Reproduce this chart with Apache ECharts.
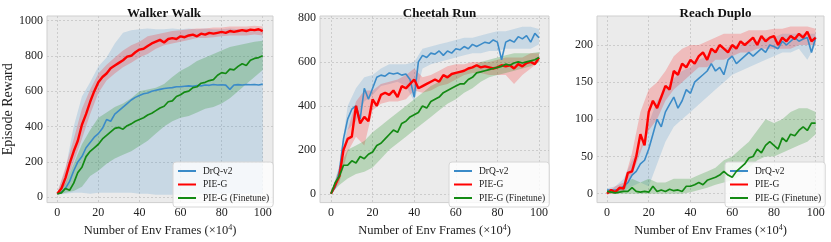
<!DOCTYPE html>
<html><head><meta charset="utf-8">
<script src="https://cdn.jsdelivr.net/npm/echarts@6/dist/echarts.min.js"></script>
<style>html,body{margin:0;padding:0;background:#fff}#c{width:831px;height:242px}</style>
</head><body><div id="c"></div>
<script>
// ---- x positions (×10^4 env frames) ----
const X  = [0,2,4,6,8,10,12,14,16,18,20,22,24,26,28,30,32,34,36,38,40,42,44,46,48,50,52,54,56,58,60,62,64,66,68,70,72,74,76,78,80,82,84,86,88,90,92,94,96,98,100];
const XB = [0,4,8,12,16,20,24,28,32,36,40,44,48,52,56,60,64,68,72,76,80,84,88,92,96,100];

const titles = ['Walker Walk','Cheetah Run','Reach Duplo'];
const seriesNames = ['DrQ-v2','PIE-G','PIE-G (Finetune)'];
const yTicksWalker  = [0,200,400,600,800,1000];
const yTicksCheetah = [0,200,400,600,800];
const yTicksReach   = [0,50,100,150,200];
const xTicks = [0,20,40,60,80,100];

// ---- Walker Walk ----
const walkerDrq   = [20,30,50,90,150,200,230,280,310,340,360,390,440,430,470,490,510,530,550,565,575,585,590,600,605,610,615,618,620,625,625,628,630,628,632,630,635,633,638,635,636,634,610,635,637,635,638,636,638,635,640];
const walkerDrqLo = [15,20,25,25,20,25,25,25,25,25,20,20,15,15,15,15,15,20,20,20,20,20,20,20,20,20];
const walkerDrqHi = [25,160,400,570,650,740,790,870,930,945,950,955,950,950,955,950,955,950,955,950,950,955,950,955,950,950];
const walkerPie   = [20,50,110,190,260,320,410,470,540,600,650,680,700,730,745,760,775,795,800,820,835,840,855,870,880,890,875,895,900,895,910,905,915,920,910,925,920,930,925,930,935,930,940,935,940,945,940,948,945,950,940];
const walkerPieLo = [15,70,200,330,470,590,660,700,735,760,790,810,840,860,870,880,890,900,900,905,910,915,915,915,920,915];
const walkerPieHi = [25,170,330,500,610,700,750,790,830,860,880,910,920,930,940,945,950,955,955,960,960,965,965,965,970,965];
const walkerFt    = [20,25,50,40,80,140,170,230,260,280,300,330,350,370,390,395,385,405,415,430,440,450,465,475,490,505,515,540,545,570,580,595,600,620,625,645,650,660,665,690,705,700,725,720,740,755,745,775,785,790,800];
const walkerFtLo  = [15,25,35,60,120,150,190,220,240,260,290,320,360,400,430,450,460,480,500,510,530,560,600,640,680,720];
const walkerFtHi  = [25,80,190,300,380,450,480,510,530,560,600,610,620,640,680,715,740,770,790,810,830,850,860,870,880,885];

// ---- Cheetah Run ----
const cheetahDrq   = [0,30,100,250,340,385,400,340,480,430,480,530,540,535,550,545,550,540,545,520,440,600,630,620,640,635,650,630,650,640,660,655,670,660,680,670,680,690,685,700,690,610,690,700,690,715,705,720,690,730,710];
const cheetahDrqLo = [0,70,290,330,420,450,490,500,510,490,420,570,590,600,610,620,630,640,640,650,650,660,660,660,660,680];
const cheetahDrqHi = [0,130,400,480,530,540,570,590,590,590,600,660,670,680,690,700,710,710,720,730,740,740,750,760,760,750];
const cheetahPie   = [0,40,80,200,250,260,400,320,350,330,430,400,450,460,450,470,440,490,480,500,520,480,490,500,510,520,510,540,530,545,550,555,560,570,575,585,575,580,575,570,575,585,580,585,570,590,580,595,600,590,620];
const cheetahPieLo = [0,50,190,260,220,380,410,420,420,430,470,460,470,490,500,520,540,550,550,540,540,540,500,540,570,600];
const cheetahPieHi = [0,110,290,420,470,470,500,510,520,540,570,530,540,560,580,590,590,600,600,600,610,620,620,620,640,640];
const cheetahFt    = [0,50,80,130,130,150,140,170,160,180,190,220,230,250,270,290,280,320,330,350,360,370,400,390,420,430,440,460,470,480,490,500,500,520,530,550,555,560,565,570,575,580,590,585,595,600,595,600,605,610,620];
const cheetahFtLo  = [0,40,70,90,100,120,160,200,230,260,290,320,350,380,410,430,460,480,510,530,540,550,560,570,580,600];
const cheetahFtHi  = [0,120,200,220,240,280,310,340,370,400,430,460,490,510,540,550,560,580,600,610,620,630,640,640,640,645];

// ---- Reach Duplo ----
const reachDrq   = [5,5,5,6,10,15,25,30,40,45,60,80,100,90,110,120,130,115,125,140,135,150,155,160,165,175,165,170,160,180,185,175,180,185,190,185,190,195,190,200,198,195,205,200,205,210,205,208,210,190,210];
const reachDrqLo = [3,2,3,10,15,10,40,70,90,100,110,120,130,140,150,160,165,170,175,180,185,190,190,195,180,200];
const reachDrqHi = [7,10,20,45,60,95,125,140,155,165,170,180,185,195,195,200,200,205,205,210,210,215,215,215,215,215];
const reachPie   = [0,5,2,8,7,28,30,50,80,65,110,125,115,130,145,140,165,160,175,170,180,175,185,190,180,195,190,200,195,190,200,195,205,200,205,210,200,212,205,210,212,200,210,205,212,208,215,210,218,205,210];
const reachPieLo = [0,0,3,25,55,85,100,125,140,150,160,170,170,180,180,185,190,190,195,195,195,195,195,200,200,200];
const reachPieHi = [0,10,15,55,110,140,150,165,185,195,200,200,205,210,215,215,215,220,220,220,222,222,225,225,225,222];
const reachFt    = [3,2,1,2,3,3,8,3,2,3,2,10,3,5,3,6,4,5,3,10,10,12,15,12,18,20,22,25,30,25,22,30,35,40,48,50,60,55,65,70,65,60,75,70,80,78,85,90,85,95,95];
const reachFtLo  = [0,0,0,0,0,0,0,0,0,0,2,5,8,12,15,18,25,35,45,50,50,55,60,65,70,80];
const reachFtHi  = [5,5,10,20,15,20,15,15,20,20,20,25,30,35,45,50,60,70,85,100,95,100,110,115,115,110];

// ---- styling ----
const COLORS = ['#3b8bc8','#ff0000','#138a13'];
const BAND = ['rgba(59,139,200,0.2)','rgba(255,0,0,0.2)','rgba(19,138,19,0.24)'];
const WIDTHS = [1.6,2.4,1.7];
const FONT = '"Liberation Serif","Times New Roman",serif';

const panels = [
  {left:45, width:228, ymin:-30, ymax:1025, yt:yTicksWalker, xmin:-5, xmax:105,
   lines:[walkerDrq,walkerPie,walkerFt], lo:[walkerDrqLo,walkerPieLo,walkerFtLo], hi:[walkerDrqHi,walkerPieHi,walkerFtHi], legLeft:173},
  {left:320, width:229, ymin:-40, ymax:809, yt:yTicksCheetah, xmin:-5.3, xmax:104.8,
   lines:[cheetahDrq,cheetahPie,cheetahFt], lo:[cheetahDrqLo,cheetahPieLo,cheetahFtLo], hi:[cheetahDrqHi,cheetahPieHi,cheetahFtHi], legLeft:449},
  {left:597, width:227, ymin:-12, ymax:239, yt:yTicksReach, xmin:-4.8, xmax:104,
   lines:[reachDrq,reachPie,reachFt], lo:[reachDrqLo,reachPieLo,reachFtLo], hi:[reachDrqHi,reachPieHi,reachFtHi], legLeft:725}
];

const grid=[], xAxis=[], yAxis=[], series=[], title=[], legend=[];
panels.forEach((p,k)=>{
  grid.push({left:p.left, top:16, width:p.width, height:193, show:true, backgroundColor:'#ebebeb', borderColor:'#cfcfcf', borderWidth:1});
  title.push({text:titles[k], left:p.left + p.width/2, top:2, textAlign:'center',
    textStyle:{fontFamily:FONT, fontWeight:'bold', fontSize:13, color:'#111'}});
  xAxis.push({type:'value', gridIndex:k, min:p.xmin, max:p.xmax,
    name:'Number of Env Frames (×10{s|4})', nameLocation:'middle', nameGap:14,
    nameTextStyle:{fontFamily:FONT, fontSize:12.5, color:'#222', rich:{s:{fontFamily:FONT, fontSize:8, color:'#222', verticalAlign:'top', padding:[0,0,6,0]}}},
    axisLine:{show:false}, axisTick:{show:false, customValues:xTicks},
    axisLabel:{customValues:xTicks, fontFamily:FONT, fontSize:12, color:'#222', margin:4, formatter:v=>String(v)},
    splitLine:{show:true, lineStyle:{color:'#c4c4c4', type:[2,2], width:0.8}}});
  yAxis.push({type:'value', gridIndex:k, min:p.ymin, max:p.ymax,
    name: k===0 ? 'Episode Reward' : '', nameLocation:'middle', nameGap:32,
    nameTextStyle:{fontFamily:FONT, fontSize:14, color:'#222'},
    axisLine:{show:false}, axisTick:{show:false, customValues:p.yt},
    axisLabel:{customValues:p.yt, fontFamily:FONT, fontSize:12, color:'#222', margin:4, formatter:v=>String(v)},
    splitLine:{show:true, lineStyle:{color:'#c4c4c4', type:[2,2], width:0.8}}});
  // bands
  [0,1,2].forEach(s=>{
    const lo=p.lo[s], hi=p.hi[s];
    series.push({type:'custom', xAxisIndex:k, yAxisIndex:k, silent:true, clip:true, z:1,
      data: XB.map((x,i)=>[x, lo[i], hi[i]]), encode:{x:0, y:[1,2]},
      renderItem:(params, api)=>{
        if(params.dataIndex!==0) return null;
        const pts=[];
        for(let i=0;i<XB.length;i++) pts.push(api.coord([XB[i], hi[i]]));
        for(let i=XB.length-1;i>=0;i--) pts.push(api.coord([XB[i], lo[i]]));
        return {type:'polygon', shape:{points:pts}, style:{fill:BAND[s]}};
      }});
  });
  [0,1,2].forEach(s=>{
    series.push({type:'line', name:seriesNames[s], xAxisIndex:k, yAxisIndex:k, z:3+s,
      data: X.map((x,i)=>[x, p.lines[s][i]]), showSymbol:false, symbol:'none',
      lineStyle:{color:COLORS[s], width:WIDTHS[s]}, itemStyle:{color:COLORS[s]}, animation:false});
  });
  legend.push({data:seriesNames, orient:'vertical', left:p.legLeft, top:162, itemGap:3.5,
    icon:'rect', itemWidth:18, itemHeight:2, itemStyle:{borderWidth:0}, padding:[4,4,4,5],
    backgroundColor:'rgba(255,255,255,0.8)', borderColor:'#d6d6d6', borderWidth:1, borderRadius:3,
    textStyle:{fontFamily:FONT, fontSize:9.5, color:'#222', padding:[0,0,0,2]}, selectedMode:false});
});

const chart = echarts.init(document.getElementById('c'), null, {renderer:'canvas'});
chart.setOption({animation:false, backgroundColor:'#ffffff', title, grid, xAxis, yAxis, legend, series});
</script>
</body></html>
